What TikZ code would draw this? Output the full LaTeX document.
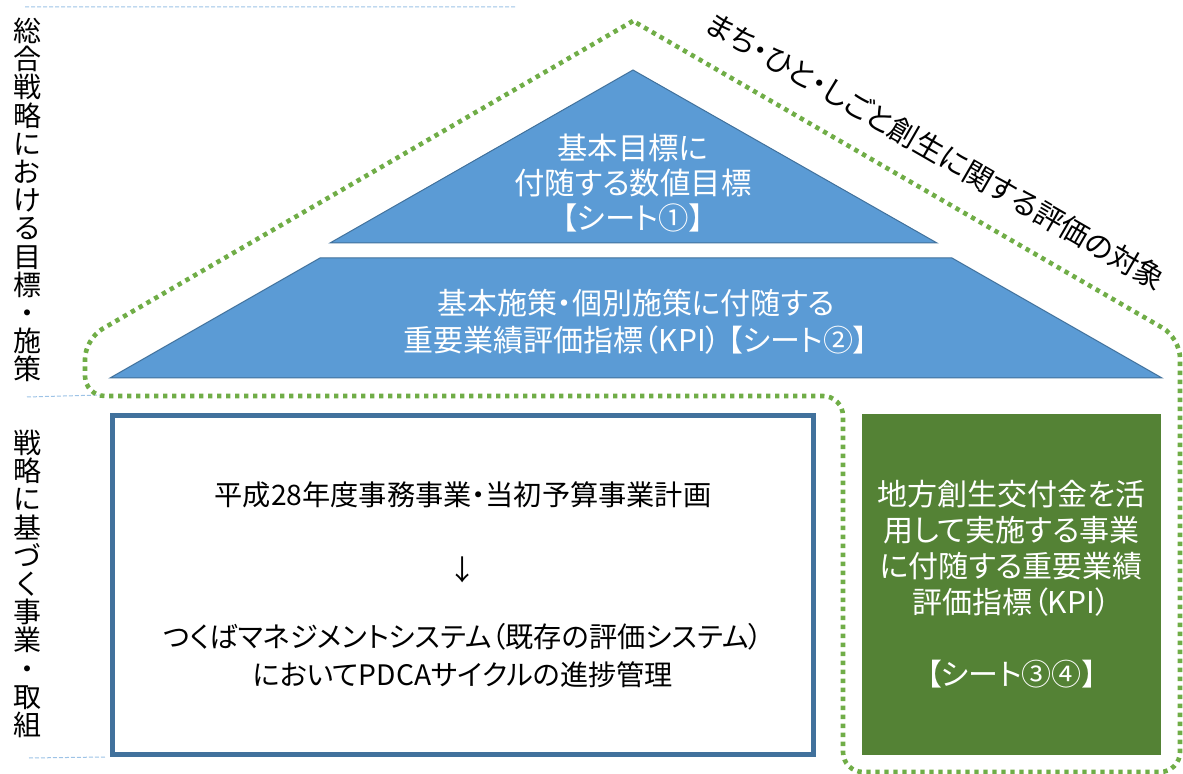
\documentclass[tikz,border=0pt]{standalone}
\usepackage{fontspec}
\setmainfont{Noto Sans CJK JP}[RawFeature=+palt]
\usetikzlibrary{positioning}
\definecolor{tierblue}{HTML}{5B9BD5}
\definecolor{edgeblue}{HTML}{41719C}
\definecolor{kpigreen}{HTML}{548235}
\definecolor{dotgreen}{HTML}{70AD47}
\definecolor{guideblue}{HTML}{9DC3E6}
\tikzset{
    x=0.5pt, y=-0.5pt, % one unit is one pixel of the sheet, y counts downwards
    every node/.style={inner sep=0pt, align=center}, % text blocks are laid out by hand
    tier/.style={fill=tierblue, draw=edgeblue, line width=0.5pt}, % the two blue layers of the pyramid
    guide/.style={guideblue, dash pattern=on 2pt off 1pt, line width=0.5pt}, % thin separators at the left
    }

\begin{document}
\begin{tikzpicture}[tiertext/.style={text=white, font=\fontsize{15.2}{17.5}\selectfont}, sidelabel/.style={font=\fontsize{14}{14.1}\selectfont}, roofline/.style={dotgreen, line width=2.3pt, dash pattern=on 2.2pt off 2.3pt, rounded corners=10pt}]
\useasboundingbox (0,0) rectangle (1183,774);
\coordinate (g1) at (25,7);
\coordinate (g2) at (515,7);
\coordinate (g3) at (27,397);
\coordinate (g4) at (100,395);
\coordinate (g5) at (29,758);
\coordinate (g6) at (105,757);
\draw[guide] (g1) -- (g2) (g3) -- (g4) (g5) -- (g6);

\draw[roofline] (633,21) -- (85,339) -- (85,396) -- (843,396) -- (843,772) -- (1180,772) -- (1180,338) -- (633,21);

\draw[tier] (633,70) -- (937,243) -- (330,243) -- cycle;
\draw[tier] (320,258) -- (952,258) -- (1162,378) -- (110,378) -- cycle;

\node[tiertext] (1) at (633,183) {基本目標に\\付随する数値目標\\【シート①】};
\node[tiertext, font=\fontsize{15}{18.5}\selectfont] (2) at (636,322) {基本施策・個別施策に付随する\\重要業績評価指標（KPI） 【シート②】};
\node[draw=edgeblue, line width=2.5pt, fill=white, minimum width=350.5pt, minimum height=169.5pt, font=\fontsize{14.1}{19}\selectfont] (3) at (463,585) {平成28年度事務事業・当初予算事業計画\\[18.5pt]↓\\[14.5pt]つくばマネジメントシステム（既存の評価システム）\\においてPDCAサイクルの進捗管理};
\node[fill=kpigreen, text=white, minimum width=149.5pt, minimum height=170.5pt, font=\fontsize{15}{18}\selectfont] (4) at (1011.5,584.5) {地方創生交付金を活\\用して実施する事業\\に付随する重要業績\\評価指標（KPI）\\[18pt]【シート③④】};
\node[sidelabel] (5) at (27,200) {総\\合\\戦\\略\\に\\お\\け\\る\\目\\標\\・\\施\\策};
\node[sidelabel] (6) at (27,584) {戦\\略\\に\\基\\づ\\く\\事\\業\\・\\取\\組};
\node[rotate=-30, font=\fontsize{14.6}{14.6}\selectfont] (7) at (936,151) {まち・ひと・しごと創生に関する評価の対象};
\end{tikzpicture}
\end{document}
